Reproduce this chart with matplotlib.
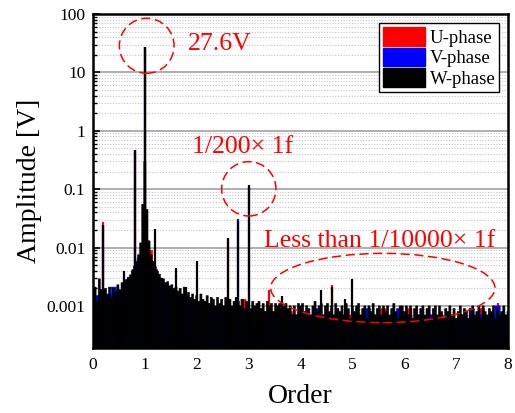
import numpy as np
import matplotlib
matplotlib.use('Agg')
import matplotlib.pyplot as plt
from matplotlib.patches import Ellipse, Patch
from matplotlib.ticker import FuncFormatter, LogLocator

plt.rcParams['font.family'] = ['Liberation Serif', 'DejaVu Serif']

# W-phase spectrum floor, order 0..8 every 0.04
w_order = np.linspace(0, 8, 201)
w_amp = [
    0.0018, 0.0021, 0.0012, 0.0029, 0.0019, 0.0013, 0.0020, 0.0015, 0.0021, 0.0014,
    0.0020, 0.0017, 0.0023, 0.0019, 0.0025, 0.0026, 0.0028, 0.0031, 0.0034, 0.0040,
    0.0048, 0.0058, 0.0075, 0.0120, 0.0550, 0.3000, 0.0450, 0.0130, 0.0075, 0.0058,
    0.0047, 0.0039, 0.0035, 0.0030, 0.0029, 0.0025, 0.0026, 0.0022, 0.0023, 0.0020,
    0.0021, 0.0018, 0.0020, 0.0016, 0.0021, 0.0015, 0.0017, 0.0014, 0.0016, 0.0013,
    0.0015, 0.0012, 0.0016, 0.0013, 0.0012, 0.0015, 0.0011, 0.0014, 0.0013, 0.0010,
    0.0014, 0.0011, 0.0013, 0.0010, 0.0014, 0.0012, 0.0013, 0.0010, 0.0012, 0.0014,
    0.0012, 0.0010, 0.0013, 0.0009, 0.0012, 0.0011, 0.0009, 0.0012, 0.0010, 0.0011,
    0.0012, 0.0009, 0.0011, 0.0008, 0.0012, 0.0010, 0.0011, 0.0008, 0.0011, 0.0010,
    0.0011, 0.0008, 0.0010, 0.0011, 0.0009, 0.0010, 0.0007, 0.0010, 0.0007, 0.0011,
    0.0010, 0.0011, 0.0008, 0.0010, 0.0009, 0.0007, 0.0010, 0.0012, 0.0008, 0.0010,
    0.0011, 0.0007, 0.0010, 0.0011, 0.0008, 0.0010, 0.0007, 0.0011, 0.0009, 0.0008,
    0.0010, 0.0007, 0.0011, 0.0009, 0.0006, 0.0010, 0.0008, 0.0010, 0.0011, 0.0007,
    0.0009, 0.0010, 0.0006, 0.0010, 0.0008, 0.0011, 0.0007, 0.0009, 0.0010, 0.0007,
    0.0010, 0.0008, 0.0010, 0.0007, 0.0009, 0.0011, 0.0008, 0.0006, 0.0010, 0.0010,
    0.0008, 0.0010, 0.0007, 0.0010, 0.0006, 0.0009, 0.0010, 0.0007, 0.0009, 0.0010,
    0.0007, 0.0009, 0.0010, 0.0006, 0.0009, 0.0010, 0.0007, 0.0010, 0.0008, 0.0006,
    0.0009, 0.0008, 0.0010, 0.0007, 0.0009, 0.0006, 0.0008, 0.0010, 0.0007, 0.0009,
    0.0008, 0.0006, 0.0009, 0.0010, 0.0007, 0.0008, 0.0010, 0.0006, 0.0010, 0.0008,
    0.0007, 0.0009, 0.0008, 0.0010, 0.0006, 0.0009, 0.0007, 0.0008, 0.0010, 0.0007,
    0.0008,
]

# U- and V-phase floors, order 0..8 every 0.1
uv_order = np.linspace(0, 8, 81)
u_amp = [
    0.0011, 0.0012, 0.0013, 0.0012, 0.0015, 0.0016, 0.0018, 0.0022, 0.0035, 0.0060,
    0.0300, 0.0090, 0.0042, 0.0029, 0.0023, 0.0019, 0.0016, 0.0015, 0.0013, 0.0012,
    0.0011, 0.0010, 0.0011, 0.0010, 0.0009, 0.0010, 0.0009, 0.0009, 0.0008, 0.0013,
    0.0008, 0.0008, 0.0007, 0.0008, 0.0007, 0.0008, 0.0009, 0.0007, 0.0008, 0.0007,
    0.0006, 0.0007, 0.0006, 0.0007, 0.0006, 0.0007, 0.0006, 0.0007, 0.0006, 0.0007,
    0.0007, 0.0006, 0.0007, 0.0006, 0.0007, 0.0006, 0.0009, 0.0006, 0.0007, 0.0006,
    0.0007, 0.0009, 0.0006, 0.0007, 0.0006, 0.0007, 0.0006, 0.0007, 0.0006, 0.0007,
    0.0006, 0.0007, 0.0006, 0.0007, 0.0006, 0.0009, 0.0006, 0.0007, 0.0006, 0.0007,
    0.0006,
]
v_amp = [
    0.0016, 0.0015, 0.0019, 0.0016, 0.0021, 0.0018, 0.0022, 0.0029, 0.0042, 0.0065,
    0.0300, 0.0060, 0.0040, 0.0029, 0.0023, 0.0019, 0.0016, 0.0015, 0.0013, 0.0012,
    0.0011, 0.0010, 0.0010, 0.0009, 0.0009, 0.0009, 0.0008, 0.0009, 0.0008, 0.0008,
    0.0008, 0.0007, 0.0008, 0.0007, 0.0008, 0.0007, 0.0007, 0.0008, 0.0007, 0.0007,
    0.0007, 0.0006, 0.0007, 0.0009, 0.0007, 0.0006, 0.0007, 0.0006, 0.0007, 0.0006,
    0.0006, 0.0007, 0.0006, 0.0009, 0.0007, 0.0006, 0.0007, 0.0006, 0.0007, 0.0009,
    0.0006, 0.0007, 0.0006, 0.0007, 0.0006, 0.0007, 0.0006, 0.0007, 0.0006, 0.0007,
    0.0006, 0.0007, 0.0006, 0.0009, 0.0006, 0.0007, 0.0006, 0.0007, 0.0010, 0.0007,
    0.0006,
]

# harmonic peaks
u_peak_order = [0.2, 0.8, 1.0, 2.6, 3.4, 4.6, 7.8]
u_peak_amp = [0.027, 0.47, 27.0, 0.014, 0.0019, 0.0023, 0.0011]
v_peak_order = [0.2, 0.8, 1.0, 2.8, 3.0]
v_peak_amp = [0.024, 0.46, 26.8, 0.031, 0.11]
w_peak_order = [0.2, 0.6, 0.8, 1.0, 1.2, 1.6, 1.8, 2.0, 2.6, 2.8, 3.0,
                3.65, 4.4, 4.6, 4.85, 5.0]
w_peak_amp = [0.024, 0.0040, 0.46, 27.6, 0.021, 0.0045, 0.0021, 0.0059, 0.0145,
              0.029, 0.12, 0.0015, 0.0019, 0.0021, 0.0013, 0.0029]

phases = ['U-phase', 'V-phase', 'W-phase']
colors = ['#ff0000', '#0000ff', '#000000']

fig = plt.figure(figsize=(5.15, 4.13), dpi=100)
ax = fig.add_axes([0.1806, 0.1574, 0.8058, 0.8087])
ax.set_yscale('log')

base = 1e-5
series = [
    (uv_order, u_amp, u_peak_order, u_peak_amp),
    (uv_order, v_amp, v_peak_order, v_peak_amp),
    (w_order, w_amp, w_peak_order, w_peak_amp),
]
for i, ((x, y, px, py), c) in enumerate(zip(series, colors)):
    z = 2 + i * 0.2
    step = x[1] - x[0]
    heights = np.array(y) - base
    bars = ax.bar(x, heights, width=step, bottom=base, color=c, edgecolor=c,
                  lw=0.4, zorder=z)
    for b in bars:
        b.set_snap(False)
    ax.vlines(px, base, py, color=c, lw=1.6, zorder=z + 0.1)

ax.set_xlim(0, 8)
ax.set_ylim(1.9e-4, 100)
ax.set_xticks(range(9))
ax.yaxis.set_major_locator(LogLocator(base=10, numticks=12))
ax.yaxis.set_minor_locator(LogLocator(base=10, subs=np.arange(2, 10), numticks=12))
ax.yaxis.set_major_formatter(FuncFormatter(lambda v, p: '%g' % v))

ax.set_axisbelow(True)
ax.grid(True, which='major', axis='y', color='#a8a8a8', lw=1.3, ls='-')
ax.grid(True, which='minor', axis='y', color='#c4c4c4', lw=0.8, ls=(0, (1, 1.5)))

ax.tick_params(axis='y', which='major', direction='in', length=5, width=1.2,
               labelsize=12.5, pad=5.5)
ax.tick_params(axis='y', which='minor', direction='in', length=3, width=1.0)
ax.tick_params(axis='x', length=0, labelsize=12.5, pad=6.5)
for s in ax.spines.values():
    s.set_linewidth(1.8)

ax.set_xlabel('Order', fontsize=20, labelpad=8)
ax.set_ylabel('Amplitude [V]', fontsize=20, labelpad=3)

handles = [Patch(facecolor=c, edgecolor=c) for c in colors]
leg = ax.legend(handles, phases, loc='upper right', bbox_to_anchor=(0.979, 0.972),
                borderaxespad=0, fontsize=13.5, handlelength=2.25, handleheight=1.15,
                labelspacing=0.05, handletextpad=0.25, borderpad=0.2,
                fancybox=False, framealpha=1, edgecolor='black')
leg.get_frame().set_linewidth(1.0)
leg.set_zorder(6)

# annotations
ax.text(1.83, 23.8, '27.6V', color='red', fontsize=18.5, va='baseline', zorder=5)
ax.text(1.90, 0.41, '1/200\u00d7 1f', color='red', fontsize=18.5, va='baseline', zorder=5)
ax.text(3.30, 0.0103, 'Less than 1/10000\u00d7 1f', color='red', fontsize=18.5,
        va='baseline', zorder=5)

for cx, cy, w, h in [(0.1294, 0.9048, 0.1318, 0.1647),
                     (0.3754, 0.4766, 0.1308, 0.1626),
                     (0.6983, 0.1796, 0.5405, 0.2075)]:
    ax.add_patch(Ellipse((cx, cy), w, h, transform=ax.transAxes, fill=False,
                         edgecolor='red', lw=1.1, ls=(0, (6, 3)), zorder=5,
                         clip_on=False))

fig.savefig('out.png', dpi=100)
